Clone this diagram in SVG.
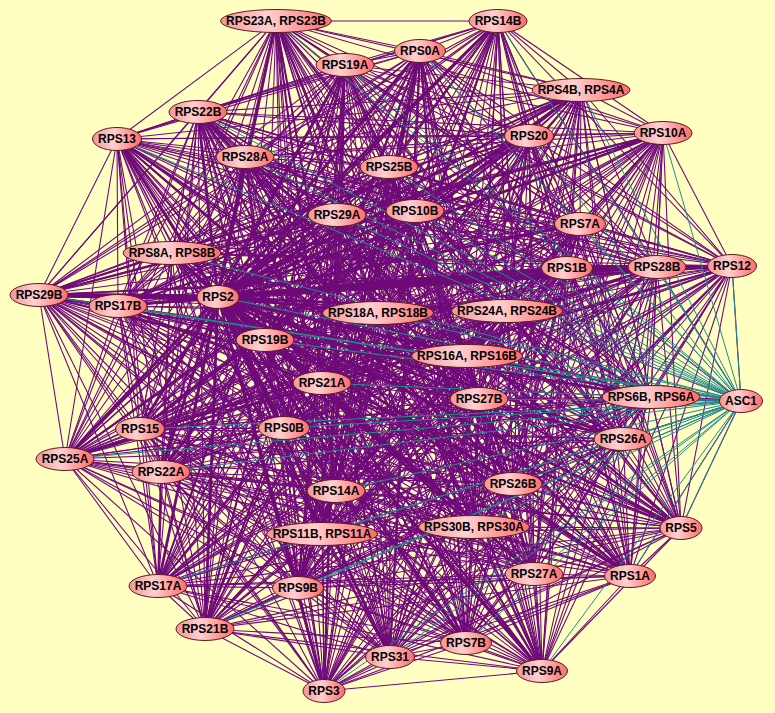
<svg xmlns="http://www.w3.org/2000/svg" width="775" height="713" viewBox="0 0 775 713">
<defs>
<linearGradient id="ng" x1="0" y1="0" x2="1" y2="0">
<stop offset="0" stop-color="#f49494"/>
<stop offset="0.42" stop-color="#ffd0d0"/>
<stop offset="1" stop-color="#ff6a6a"/>
</linearGradient>
<style>
.e{fill:none;stroke:#700a7c;stroke-width:1.1;stroke-linejoin:round}
.t{fill:none;stroke:#6e0a78;stroke-width:2;stroke-linejoin:round;stroke-linecap:round}
.h{fill:none;stroke:#6e0a78;stroke-width:2.8;stroke-linejoin:round;stroke-linecap:round}
.c{fill:none;stroke:#1f8c8c;stroke-width:1}
.node ellipse{fill:url(#ng);stroke:#5a1c1c;stroke-width:1}
.node text{font-family:"Liberation Sans",Arial,sans-serif;font-size:12px;font-weight:bold;fill:#000;text-anchor:middle}
</style>
</defs>
<rect width="775" height="713" fill="#ffffc2"/>
<g id="connectors">
<polygon class="e" points="276,21 498,21 420,51 345,65 581,90 198,112 117,139 529,136 663,133 245,157 389,167 337,215 415,211 580,224 172,253 567,268 657,267 732,266 39,295 118,306 218,297 378,313 507,311 265,340 467,356 322,383 479,399 651,397 140,429 284,428 65,459 161,472 623,439 513,484 336,491 474,527 322,534 681,528 534,574 630,576 158,586 298,588 205,629 466,643 390,657 542,671 324,691"/>
<polygon class="e" points="276,21 420,51 581,90 117,139 663,133 389,167 415,211 172,253 657,267 39,295 218,297 507,311 467,356 479,399 140,429 65,459 623,439 336,491 322,534 534,574 158,586 205,629 390,657 324,691 498,21 345,65 198,112 529,136 245,157 337,215 580,224 567,268 732,266 118,306 378,313 265,340 322,383 651,397 284,428 161,472 513,484 474,527 681,528 630,576 298,588 466,643 542,671"/>
<polygon class="e" points="276,21 345,65 117,139 245,157 415,211 567,268 39,295 378,313 467,356 651,397 65,459 513,484 322,534 630,576 205,629 542,671 498,21 581,90 529,136 389,167 580,224 657,267 118,306 507,311 322,383 140,429 161,472 336,491 681,528 158,586 466,643 324,691 420,51 198,112 663,133 337,215 172,253 732,266 218,297 265,340 479,399 284,428 623,439 474,527 534,574 298,588 390,657"/>
<polygon class="e" points="276,21 581,90 663,133 415,211 657,267 218,297 467,356 140,429 623,439 322,534 158,586 390,657 498,21 198,112 245,157 580,224 732,266 378,313 322,383 284,428 513,484 681,528 298,588 542,671 420,51 117,139 389,167 172,253 39,295 507,311 479,399 65,459 336,491 534,574 205,629 324,691 345,65 529,136 337,215 567,268 118,306 265,340 651,397 161,472 474,527 630,576 466,643"/>
<polygon class="e" points="276,21 198,112 389,167 567,268 218,297 322,383 65,459 474,527 158,586 542,671 345,65 663,133 580,224 39,295 265,340 140,429 513,484 534,574 466,643 498,21 117,139 337,215 657,267 378,313 479,399 161,472 322,534 298,588 324,691 581,90 245,157 172,253 118,306 467,356 284,428 336,491 630,576 390,657 420,51 529,136 415,211 732,266 507,311 651,397 623,439 681,528 205,629"/>
<polygon class="e" points="276,21 117,139 415,211 39,295 467,356 65,459 322,534 205,629 498,21 529,136 580,224 118,306 322,383 161,472 681,528 466,643 420,51 663,133 172,253 218,297 479,399 623,439 534,574 390,657 345,65 245,157 567,268 378,313 651,397 513,484 630,576 542,671 581,90 389,167 657,267 507,311 140,429 336,491 158,586 324,691 198,112 337,215 732,266 265,340 284,428 474,527 298,588"/>
<polygon class="e" points="276,21 529,136 172,253 378,313 140,429 474,527 205,629 420,51 245,157 657,267 265,340 65,459 681,528 390,657 581,90 337,215 39,295 322,383 623,439 630,576 324,691 117,139 580,224 218,297 651,397 336,491 298,588 498,21 663,133 567,268 507,311 284,428 322,534 466,643 345,65 389,167 732,266 467,356 161,472 534,574 542,671 198,112 415,211 118,306 479,399 513,484 158,586"/>
<polygon class="e" points="276,21 663,133 657,267 467,356 623,439 158,586 498,21 245,157 732,266 322,383 513,484 298,588 420,51 389,167 39,295 479,399 336,491 205,629 345,65 337,215 118,306 651,397 474,527 466,643 581,90 415,211 218,297 140,429 322,534 390,657 198,112 580,224 378,313 284,428 681,528 542,671 117,139 172,253 507,311 65,459 534,574 324,691 529,136 567,268 265,340 161,472 630,576"/>
<polygon class="e" points="276,21 245,157 39,295 651,397 322,534 542,671 529,136 657,267 322,383 336,491 466,643 198,112 172,253 265,340 623,439 298,588 345,65 415,211 378,313 65,459 630,576 498,21 389,167 118,306 140,429 681,528 324,691 663,133 732,266 479,399 474,527 390,657 117,139 567,268 467,356 513,484 205,629 581,90 580,224 507,311 161,472 158,586 420,51 337,215 218,297 284,428 534,574"/>
<polygon class="e" points="276,21 389,167 218,297 65,459 158,586 345,65 580,224 265,340 513,484 466,643 117,139 657,267 479,399 322,534 324,691 245,157 118,306 284,428 630,576 420,51 415,211 507,311 623,439 205,629 198,112 567,268 322,383 474,527 542,671 663,133 39,295 140,429 534,574 498,21 337,215 378,313 161,472 298,588 581,90 172,253 467,356 336,491 390,657 529,136 732,266 651,397 681,528"/>
<polygon class="e" points="276,21 337,215 507,311 513,484 390,657 663,133 118,306 65,459 298,588 198,112 657,267 651,397 534,574 420,51 580,224 467,356 474,527 324,691 389,167 378,313 623,439 466,643 529,136 39,295 284,428 158,586 581,90 567,268 479,399 681,528 498,21 415,211 265,340 336,491 542,671 245,157 218,297 161,472 205,629 117,139 732,266 140,429 630,576 345,65 172,253 322,383 322,534"/>
<polygon class="e" points="276,21 415,211 467,356 322,534 498,21 580,224 322,383 681,528 420,51 172,253 479,399 534,574 345,65 567,268 651,397 630,576 581,90 657,267 140,429 158,586 198,112 732,266 284,428 298,588 117,139 39,295 65,459 205,629 529,136 118,306 161,472 466,643 663,133 218,297 623,439 390,657 245,157 378,313 513,484 542,671 389,167 507,311 336,491 324,691 337,215 265,340 474,527"/>
<polygon class="e" points="276,21 580,224 479,399 630,576 198,112 39,295 161,472 390,657 389,167 265,340 322,534 420,51 567,268 140,429 298,588 529,136 218,297 513,484 324,691 415,211 322,383 534,574 581,90 732,266 65,459 466,643 245,157 507,311 474,527 498,21 172,253 651,397 158,586 117,139 118,306 623,439 542,671 337,215 467,356 681,528 345,65 657,267 284,428 205,629 663,133 378,313 336,491"/>
<polygon class="e" points="276,21 172,253 140,429 205,629 245,157 265,340 681,528 581,90 39,295 623,439 324,691 580,224 651,397 298,588 663,133 507,311 322,534 345,65 732,266 161,472 542,671 415,211 479,399 158,586 529,136 378,313 474,527 420,51 657,267 65,459 390,657 337,215 322,383 630,576 117,139 218,297 336,491 498,21 567,268 284,428 466,643 389,167 467,356 534,574 198,112 118,306 513,484"/>
<polygon class="e" points="276,21 567,268 65,459 542,671 580,224 140,429 466,643 337,215 479,399 298,588 245,157 467,356 630,576 529,136 507,311 681,528 198,112 218,297 474,527 345,65 39,295 513,484 498,21 657,267 161,472 324,691 172,253 284,428 390,657 415,211 651,397 205,629 389,167 322,383 158,586 663,133 265,340 534,574 117,139 378,313 322,534 581,90 118,306 336,491 420,51 732,266 623,439"/>
<polygon class="e" points="276,21 657,267 623,439 498,21 732,266 513,484 420,51 39,295 336,491 345,65 118,306 474,527 581,90 218,297 322,534 198,112 378,313 681,528 117,139 507,311 534,574 529,136 265,340 630,576 663,133 467,356 158,586 245,157 322,383 298,588 389,167 479,399 205,629 337,215 651,397 466,643 415,211 140,429 390,657 580,224 284,428 542,671 172,253 65,459 324,691 567,268 161,472"/>
<polygon class="e" points="276,21 732,266 336,491 581,90 378,313 534,574 663,133 322,383 205,629 415,211 284,428 324,691 657,267 513,484 345,65 218,297 681,528 529,136 467,356 298,588 337,215 140,429 542,671 567,268 623,439 420,51 118,306 322,534 117,139 265,340 158,586 389,167 651,397 390,657 172,253 161,472 498,21 39,295 474,527 198,112 507,311 630,576 245,157 479,399 466,643 580,224 65,459"/>
<polygon class="e" points="276,21 39,295 322,534 529,136 322,383 466,643 172,253 623,439 345,65 378,313 630,576 389,167 140,429 324,691 732,266 474,527 117,139 467,356 205,629 580,224 161,472 420,51 218,297 534,574 245,157 651,397 542,671 657,267 336,491 198,112 265,340 298,588 415,211 65,459 498,21 118,306 681,528 663,133 479,399 390,657 567,268 513,484 581,90 507,311 158,586 337,215 284,428"/>
<polygon class="e" points="276,21 118,306 534,574 389,167 284,428 498,21 218,297 630,576 337,215 65,459 420,51 378,313 158,586 415,211 161,472 345,65 507,311 298,588 580,224 623,439 581,90 265,340 205,629 172,253 513,484 198,112 467,356 466,643 567,268 336,491 117,139 322,383 390,657 657,267 474,527 529,136 479,399 542,671 732,266 322,534 663,133 651,397 324,691 39,295 681,528 245,157 140,429"/>
<polygon class="e" points="276,21 218,297 158,586 580,224 513,484 117,139 479,399 324,691 118,306 630,576 415,211 623,439 198,112 322,383 542,671 39,295 534,574 337,215 161,472 581,90 467,356 390,657 732,266 681,528 389,167 65,459 345,65 265,340 466,643 657,267 322,534 245,157 284,428 420,51 507,311 205,629 567,268 474,527 663,133 140,429 498,21 378,313 298,588 172,253 336,491 529,136 651,397"/>
<polygon class="e" points="276,21 378,313 205,629 657,267 681,528 337,215 623,439 117,139 651,397 498,21 507,311 466,643 732,266 534,574 415,211 513,484 529,136 140,429 420,51 265,340 390,657 39,295 630,576 580,224 336,491 663,133 284,428 345,65 467,356 542,671 118,306 158,586 172,253 474,527 245,157 65,459 581,90 322,383 324,691 218,297 298,588 567,268 322,534 389,167 161,472 198,112 479,399"/>
<polygon class="e" points="276,21 507,311 390,657 118,306 298,588 657,267 534,574 580,224 474,527 389,167 623,439 529,136 284,428 581,90 479,399 498,21 265,340 542,671 218,297 205,629 732,266 630,576 172,253 322,534 337,215 513,484 663,133 65,459 198,112 651,397 420,51 467,356 324,691 378,313 466,643 39,295 158,586 567,268 681,528 415,211 336,491 245,157 161,472 117,139 140,429 345,65 322,383"/>
<polygon class="e" points="276,21 265,340 324,691 507,311 542,671 378,313 390,657 218,297 466,643 118,306 205,629 39,295 298,588 732,266 158,586 657,267 630,576 567,268 534,574 172,253 681,528 580,224 322,534 415,211 474,527 337,215 336,491 389,167 513,484 245,157 623,439 663,133 161,472 529,136 65,459 117,139 284,428 198,112 140,429 581,90 651,397 345,65 479,399 420,51 322,383 498,21 467,356"/>
<path class="t" d="M420 51L298 588M420 51L205 629M420 51L390 657M420 51L466 643M420 51L322 534M345 65L205 629M345 65L298 588M345 65L324 691M345 65L158 586M276 21L336 491M276 21L390 657M276 21L542 671M498 21L298 588M498 21L161 472M498 21L65 459M581 90L118 306M581 90L65 459M581 90L140 429M529 136L39 295M529 136L140 429M663 133L39 295M663 133L118 306M117 139L681 528M117 139L630 576M117 139L542 671M198 112L534 574M198 112L630 576M198 112L466 643M245 157L681 528M245 157L542 671M39 295L651 397M39 295L623 439M118 306L681 528M65 459L732 266M65 459L657 267M172 253L534 574M158 586L161 472M567 268L657 267L732 266"/>
<path class="h" d="M218 297L276 21M218 297L498 21M218 297L420 51M218 297L345 65M218 297L581 90M218 297L198 112M218 297L117 139M218 297L529 136M218 297L663 133M218 297L245 157M218 297L389 167M218 297L337 215M218 297L415 211M218 297L580 224M218 297L172 253M218 297L567 268M218 297L657 267M218 297L732 266M218 297L39 295M218 297L118 306M218 297L378 313M218 297L507 311M218 297L265 340M218 297L467 356M218 297L322 383M218 297L479 399M218 297L651 397M218 297L140 429M218 297L284 428M218 297L65 459M218 297L161 472M218 297L623 439M218 297L513 484M218 297L336 491M218 297L474 527M218 297L322 534M218 297L681 528M218 297L534 574M218 297L630 576M218 297L158 586M218 297L298 588M218 297L205 629M218 297L466 643M218 297L390 657M218 297L542 671M218 297L324 691"/>
<path class="h" style="stroke-width:5" d="M39 295L218 297M567 268L657 267M218 297L567 268"/>
<path class="h" style="stroke-width:3" d="M657 267L732 266M651 397L741 401"/>
<path class="e" d="M741 401L732 266M741 401L657 267M741 401L567 268M741 401L623 439M741 401L681 528M741 401L630 576M741 401L479 399M741 401L467 356M741 401L507 311"/>
<path class="c" d="M741 401L276 21M741 401L498 21M741 401L420 51M741 401L345 65M741 401L581 90M741 401L198 112M741 401L117 139M741 401L529 136M741 401L663 133M741 401L245 157M741 401L389 167M741 401L337 215M741 401L415 211M741 401L580 224M741 401L172 253M741 401L567 268M741 401L657 267M741 401L732 266M741 401L39 295M741 401L118 306M741 401L218 297M741 401L378 313M741 401L507 311M741 401L265 340M741 401L467 356M741 401L322 383M741 401L479 399M741 401L140 429M741 401L284 428M741 401L65 459M741 401L161 472M741 401L623 439M741 401L513 484M741 401L336 491M741 401L474 527M741 401L322 534M741 401L681 528M741 401L534 574M741 401L630 576M741 401L158 586M741 401L298 588M741 401L205 629M741 401L466 643M741 401L390 657M741 401L542 671M741 401L324 691"/>
</g>
<g id="n-RPS23A-RPS23B" class="node"><ellipse cx="276" cy="21" rx="55.5" ry="11.5"/><text x="276" y="25">RPS23A, RPS23B</text></g>
<g id="n-RPS14B" class="node"><ellipse cx="498" cy="21" rx="29" ry="11.5"/><text x="498" y="25">RPS14B</text></g>
<g id="n-RPS0A" class="node"><ellipse cx="420" cy="51" rx="25.5" ry="11.5"/><text x="420" y="55">RPS0A</text></g>
<g id="n-RPS19A" class="node"><ellipse cx="345" cy="65" rx="29" ry="11.5"/><text x="345" y="69">RPS19A</text></g>
<g id="n-RPS4B-RPS4A" class="node"><ellipse cx="581" cy="90" rx="49" ry="11.5"/><text x="581" y="94">RPS4B, RPS4A</text></g>
<g id="n-RPS22B" class="node"><ellipse cx="198" cy="112" rx="29" ry="11.5"/><text x="198" y="116">RPS22B</text></g>
<g id="n-RPS13" class="node"><ellipse cx="117" cy="139" rx="24.5" ry="11.5"/><text x="117" y="143">RPS13</text></g>
<g id="n-RPS20" class="node"><ellipse cx="529" cy="136" rx="24.5" ry="11.5"/><text x="529" y="140">RPS20</text></g>
<g id="n-RPS10A" class="node"><ellipse cx="663" cy="133" rx="29" ry="11.5"/><text x="663" y="137">RPS10A</text></g>
<g id="n-RPS28A" class="node"><ellipse cx="245" cy="157" rx="29" ry="11.5"/><text x="245" y="161">RPS28A</text></g>
<g id="n-RPS25B" class="node"><ellipse cx="389" cy="167" rx="29" ry="11.5"/><text x="389" y="171">RPS25B</text></g>
<g id="n-RPS29A" class="node"><ellipse cx="337" cy="215" rx="29" ry="11.5"/><text x="337" y="219">RPS29A</text></g>
<g id="n-RPS10B" class="node"><ellipse cx="415" cy="211" rx="29" ry="11.5"/><text x="415" y="215">RPS10B</text></g>
<g id="n-RPS7A" class="node"><ellipse cx="580" cy="224" rx="25.5" ry="11.5"/><text x="580" y="228">RPS7A</text></g>
<g id="n-RPS8A-RPS8B" class="node"><ellipse cx="172" cy="253" rx="49" ry="11.5"/><text x="172" y="257">RPS8A, RPS8B</text></g>
<g id="n-RPS1B" class="node"><ellipse cx="567" cy="268" rx="25.5" ry="11.5"/><text x="567" y="272">RPS1B</text></g>
<g id="n-RPS28B" class="node"><ellipse cx="657" cy="267" rx="29" ry="11.5"/><text x="657" y="271">RPS28B</text></g>
<g id="n-RPS12" class="node"><ellipse cx="732" cy="266" rx="24.5" ry="11.5"/><text x="732" y="270">RPS12</text></g>
<g id="n-RPS29B" class="node"><ellipse cx="39" cy="295" rx="29" ry="11.5"/><text x="39" y="299">RPS29B</text></g>
<g id="n-RPS17B" class="node"><ellipse cx="118" cy="306" rx="29" ry="11.5"/><text x="118" y="310">RPS17B</text></g>
<g id="n-RPS2" class="node"><ellipse cx="218" cy="297" rx="21" ry="11.5"/><text x="218" y="301">RPS2</text></g>
<g id="n-RPS18A-RPS18B" class="node"><ellipse cx="378" cy="313" rx="55.5" ry="11.5"/><text x="378" y="317">RPS18A, RPS18B</text></g>
<g id="n-RPS24A-RPS24B" class="node"><ellipse cx="507" cy="311" rx="55.5" ry="11.5"/><text x="507" y="315">RPS24A, RPS24B</text></g>
<g id="n-RPS19B" class="node"><ellipse cx="265" cy="340" rx="29" ry="11.5"/><text x="265" y="344">RPS19B</text></g>
<g id="n-RPS16A-RPS16B" class="node"><ellipse cx="467" cy="356" rx="55.5" ry="11.5"/><text x="467" y="360">RPS16A, RPS16B</text></g>
<g id="n-RPS21A" class="node"><ellipse cx="322" cy="383" rx="29" ry="11.5"/><text x="322" y="387">RPS21A</text></g>
<g id="n-RPS27B" class="node"><ellipse cx="479" cy="399" rx="29" ry="11.5"/><text x="479" y="403">RPS27B</text></g>
<g id="n-RPS6B-RPS6A" class="node"><ellipse cx="651" cy="397" rx="49" ry="11.5"/><text x="651" y="401">RPS6B, RPS6A</text></g>
<g id="n-ASC1" class="node"><ellipse cx="741" cy="401" rx="21.5" ry="11.5"/><text x="741" y="405">ASC1</text></g>
<g id="n-RPS15" class="node"><ellipse cx="140" cy="429" rx="24.5" ry="11.5"/><text x="140" y="433">RPS15</text></g>
<g id="n-RPS0B" class="node"><ellipse cx="284" cy="428" rx="25.5" ry="11.5"/><text x="284" y="432">RPS0B</text></g>
<g id="n-RPS25A" class="node"><ellipse cx="65" cy="459" rx="29" ry="11.5"/><text x="65" y="463">RPS25A</text></g>
<g id="n-RPS22A" class="node"><ellipse cx="161" cy="472" rx="29" ry="11.5"/><text x="161" y="476">RPS22A</text></g>
<g id="n-RPS26A" class="node"><ellipse cx="623" cy="439" rx="29" ry="11.5"/><text x="623" y="443">RPS26A</text></g>
<g id="n-RPS26B" class="node"><ellipse cx="513" cy="484" rx="29" ry="11.5"/><text x="513" y="488">RPS26B</text></g>
<g id="n-RPS14A" class="node"><ellipse cx="336" cy="491" rx="29" ry="11.5"/><text x="336" y="495">RPS14A</text></g>
<g id="n-RPS30B-RPS30A" class="node"><ellipse cx="474" cy="527" rx="55.5" ry="11.5"/><text x="474" y="531">RPS30B, RPS30A</text></g>
<g id="n-RPS11B-RPS11A" class="node"><ellipse cx="322" cy="534" rx="55.5" ry="11.5"/><text x="322" y="538">RPS11B, RPS11A</text></g>
<g id="n-RPS5" class="node"><ellipse cx="681" cy="528" rx="21" ry="11.5"/><text x="681" y="532">RPS5</text></g>
<g id="n-RPS27A" class="node"><ellipse cx="534" cy="574" rx="29" ry="11.5"/><text x="534" y="578">RPS27A</text></g>
<g id="n-RPS1A" class="node"><ellipse cx="630" cy="576" rx="25.5" ry="11.5"/><text x="630" y="580">RPS1A</text></g>
<g id="n-RPS17A" class="node"><ellipse cx="158" cy="586" rx="29" ry="11.5"/><text x="158" y="590">RPS17A</text></g>
<g id="n-RPS9B" class="node"><ellipse cx="298" cy="588" rx="25.5" ry="11.5"/><text x="298" y="592">RPS9B</text></g>
<g id="n-RPS21B" class="node"><ellipse cx="205" cy="629" rx="29" ry="11.5"/><text x="205" y="633">RPS21B</text></g>
<g id="n-RPS7B" class="node"><ellipse cx="466" cy="643" rx="25.5" ry="11.5"/><text x="466" y="647">RPS7B</text></g>
<g id="n-RPS31" class="node"><ellipse cx="390" cy="657" rx="24.5" ry="11.5"/><text x="390" y="661">RPS31</text></g>
<g id="n-RPS9A" class="node"><ellipse cx="542" cy="671" rx="25.5" ry="11.5"/><text x="542" y="675">RPS9A</text></g>
<g id="n-RPS3" class="node"><ellipse cx="324" cy="691" rx="21" ry="11.5"/><text x="324" y="695">RPS3</text></g>
</svg>
